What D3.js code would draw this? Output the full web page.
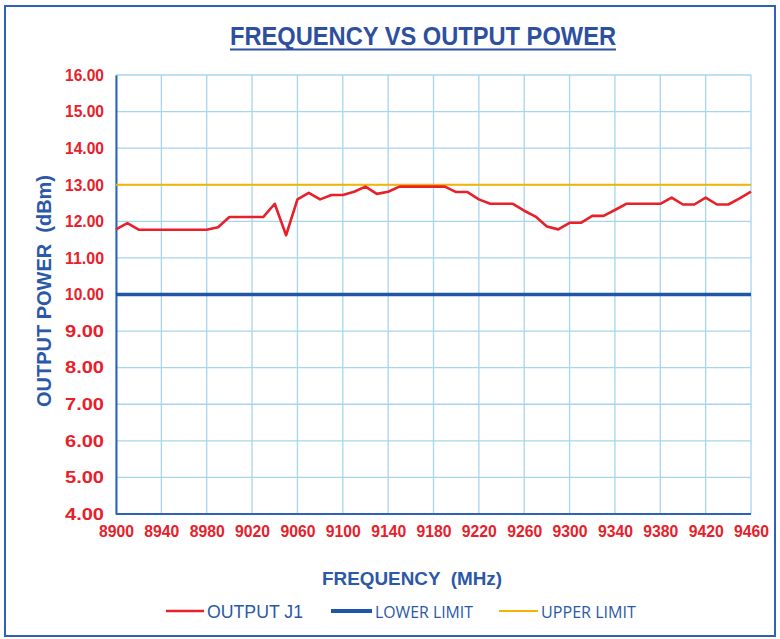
<!DOCTYPE html>
<html><head><meta charset="utf-8">
<script src="https://cdn.jsdelivr.net/npm/d3@7"></script>
<style>body{margin:0;background:#fff}</style>
</head><body>
<script>
const frequencies = d3.range(8900, 9461, 10);
const outputJ1 = [11.78,11.95,11.77,11.77,11.77,11.77,11.77,11.77,11.77,11.84,
  12.12,12.12,12.12,12.12,12.48,11.62,12.6,12.78,12.6,12.72,
  12.72,12.81,12.95,12.75,12.81,12.95,12.95,12.95,12.95,12.95,
  12.8,12.8,12.6,12.48,12.48,12.48,12.29,12.13,11.86,11.78,
  11.96,11.96,12.15,12.15,12.31,12.48,12.48,12.48,12.48,12.65,
  12.46,12.46,12.65,12.46,12.46,12.63,12.81];
const lowerLimit = 10;
const upperLimit = 13;
const xTicks = d3.range(8900, 9461, 40);
const yTicks = d3.range(4, 16.01, 1);
const seriesNames = ["OUTPUT J1", "LOWER LIMIT", "UPPER LIMIT"];

const W = 780, H = 639;
const svg = d3.select("body").append("svg").attr("width", W).attr("height", H);
const blue = "#2b58a8", red = "#e8202a", orange = "#f4b400", grid = "#a6d6ec";

svg.append("rect").attr("x", 5).attr("y", 6).attr("width", 770).attr("height", 630)
  .attr("fill", "#fff").attr("stroke", "#2d62b8").attr("stroke-width", 2);

const m = {l: 116, r: 751, t: 75, b: 514};
const x = d3.scaleLinear().domain([8900, 9460]).range([m.l, m.r]);
const y = d3.scaleLinear().domain([4, 16]).range([m.b, m.t]);

const g = svg.append("g");
g.selectAll(".vg").data(xTicks).join("line")
  .attr("x1", d => x(d)).attr("x2", d => x(d)).attr("y1", m.t).attr("y2", m.b)
  .attr("stroke", grid).attr("stroke-width", 1.3);
g.selectAll(".hg").data(yTicks).join("line")
  .attr("x1", m.l).attr("x2", m.r).attr("y1", d => y(d)).attr("y2", d => y(d))
  .attr("stroke", grid).attr("stroke-width", 1.3);

const xAxis = d3.axisBottom(x).tickValues(xTicks).tickSize(0).tickFormat(d3.format("d")).tickPadding(11);
const yAxis = d3.axisLeft(y).tickValues(yTicks).tickSize(0).tickFormat(d3.format(".2f")).tickPadding(12);
const gx = svg.append("g").attr("transform", `translate(0,${m.b})`).call(xAxis);
const gy = svg.append("g").attr("transform", `translate(${m.l},0)`).call(yAxis);
[gx, gy].forEach(a => {
  a.select(".domain").attr("stroke", "#2d62b8").attr("stroke-width", 2);
  a.selectAll("text").attr("fill", red).attr("font-family", "Liberation Sans, Arial, sans-serif")
    .attr("font-weight", "bold").attr("font-size", 16.5).attr("lengthAdjust", "spacingAndGlyphs");
});
gx.selectAll("text").attr("textLength", 35);
gy.selectAll("text").attr("textLength", 39);
gx.select(".domain").attr("d", `M${m.l},0H${m.r}`);

svg.append("line").attr("x1", m.l).attr("x2", m.r).attr("y1", y(upperLimit)).attr("y2", y(upperLimit))
  .attr("stroke", orange).attr("stroke-width", 2);
svg.append("line").attr("x1", m.l).attr("x2", m.r).attr("y1", y(lowerLimit)).attr("y2", y(lowerLimit))
  .attr("stroke", "#1f56a8").attr("stroke-width", 3.5);

const line = d3.line().x((d, i) => x(frequencies[i])).y(d => y(d));
svg.append("path").datum(outputJ1).attr("d", line).attr("fill", "none")
  .attr("stroke", red).attr("stroke-width", 2.6).attr("stroke-linejoin", "round");

// title
svg.append("text").attr("x", 423).attr("y", 45).attr("text-anchor", "middle")
  .attr("font-family", "Liberation Sans, Arial, sans-serif").attr("font-weight", "bold")
  .attr("font-size", 26).attr("fill", "#2d4fa0")
  .attr("textLength", 386).attr("lengthAdjust", "spacingAndGlyphs")
  .text("FREQUENCY VS OUTPUT POWER");
svg.append("line").attr("x1", 230).attr("x2", 616).attr("y1", 49.5).attr("y2", 49.5)
  .attr("stroke", "#2d4fa0").attr("stroke-width", 2);

// axis titles
svg.append("text").attr("transform", "translate(51,291) rotate(-90)").attr("text-anchor", "middle")
  .attr("font-family", "Liberation Sans, Arial, sans-serif").attr("font-weight", "bold")
  .attr("font-size", 19.5).attr("fill", blue).attr("xml:space", "preserve")
  .attr("textLength", 232).attr("lengthAdjust", "spacingAndGlyphs")
  .text("OUTPUT POWER  (dBm)");
svg.append("text").attr("x", 412).attr("y", 585).attr("text-anchor", "middle")
  .attr("font-family", "Liberation Sans, Arial, sans-serif").attr("font-weight", "bold")
  .attr("font-size", 19).attr("fill", blue).attr("xml:space", "preserve")
  .attr("textLength", 180).attr("lengthAdjust", "spacingAndGlyphs")
  .text("FREQUENCY  (MHz)");

// legend
const leg = [
  {name: seriesNames[0], x: 166, len: 38, color: red, w: 2.5, tl: 96, font: "Liberation Sans, Arial, sans-serif", fs: 18},
  {name: seriesNames[1], x: 331, len: 41, color: "#1f56a8", w: 4, tl: 98, font: "Open Sans, sans-serif", fs: 17},
  {name: seriesNames[2], x: 499, len: 39, color: orange, w: 2, tl: 95, font: "Open Sans, sans-serif", fs: 17}
];
const lg = svg.selectAll(".leg").data(leg).join("g");
lg.append("line").attr("x1", d => d.x).attr("x2", d => d.x + d.len).attr("y1", 611).attr("y2", 611)
  .attr("stroke", d => d.color).attr("stroke-width", d => d.w);
lg.append("text").attr("x", d => d.x + d.len + 3).attr("y", 618)
  .attr("font-family", d => d.font).attr("font-size", d => d.fs).attr("fill", blue)
  .attr("font-weight", 500)
  .attr("textLength", d => d.tl).attr("lengthAdjust", "spacingAndGlyphs")
  .text(d => d.name);
</script>
</body></html>
